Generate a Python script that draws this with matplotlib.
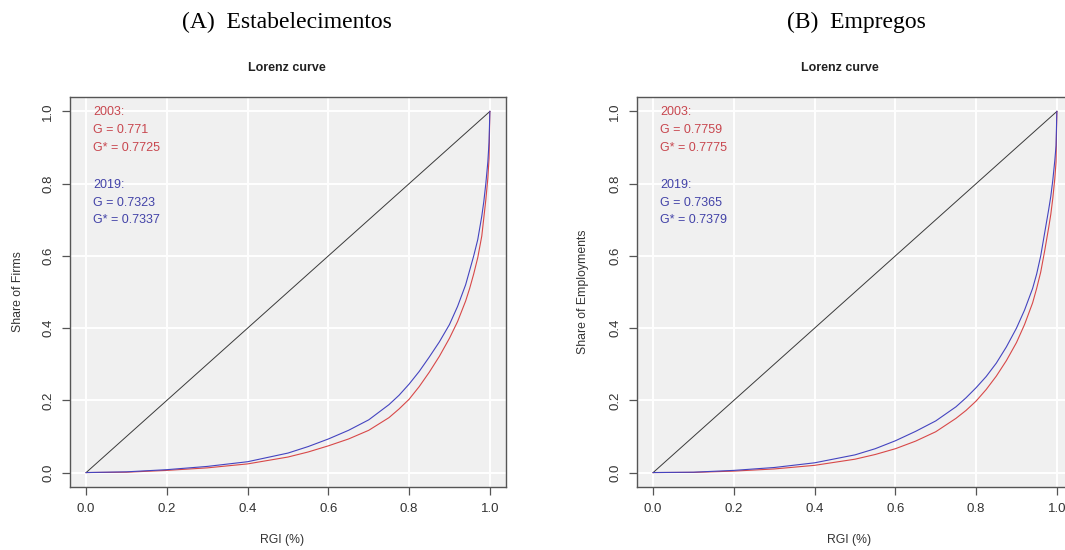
import matplotlib
matplotlib.use("Agg")
import matplotlib.pyplot as plt

# ---- data ------------------------------------------------------------------
share_x = [0, 0.1, 0.2, 0.3, 0.4, 0.5, 0.55, 0.6, 0.65, 0.7, 0.75, 0.775,
           0.8, 0.825, 0.85, 0.875, 0.9, 0.92, 0.94, 0.95, 0.96, 0.97, 0.98,
           0.985, 0.99, 0.995, 0.998, 1.0]

firms_2003 = [0, .001, .006, .013, .024, .043, .057, .074, .093, .117, .152,
              .176, .203, .238, .278, .322, .372, .418, .475, .51, .55, .595,
              .655, .705, .755, .815, .87, 1.0]
firms_2019 = [0, .002, .008, .017, .030, .054, .072, .093, .117, .146, .188,
              .214, .245, .28, .32, .362, .41, .46, .52, .56, .60, .645, .71,
              .75, .80, .86, .915, 1.0]

emp_2003 = [0, .0005, .004, .010, .020, .037, .050, .066, .087, .113, .150,
            .172, .198, .23, .267, .31, .36, .41, .47, .51, .555, .615, .68,
            .715, .76, .815, .86, 1.0]
emp_2019 = [0, .001, .006, .014, .027, .049, .066, .088, .114, .143, .182,
            .207, .235, .266, .303, .348, .40, .45, .51, .55, .60, .665, .73,
            .765, .81, .865, .905, 1.0]

gini_firms = {"2003": ("0.771", "0.7725"), "2019": ("0.7323", "0.7337")}
gini_emp = {"2003": ("0.7759", "0.7775"), "2019": ("0.7365", "0.7379")}

ticks = [0.0, 0.2, 0.4, 0.6, 0.8, 1.0]
tick_labels = ["0.0", "0.2", "0.4", "0.6", "0.8", "1.0"]

RED = "#d84848"
BLUE = "#4444c0"
RED_TXT = "#c8474f"
BLUE_TXT = "#4343a8"

plt.rcParams["font.family"] = ["Liberation Sans", "DejaVu Sans"]

W, H = 1065, 550
fig = plt.figure(figsize=(W / 100, H / 100), dpi=100)


def fx(px):
    return px / W


def fy(py):
    return 1 - py / H


def panel(left_px, y_2003, y_2019, gini, ylabel, ylabel_px, title_px,
          header, header_px):
    ax = fig.add_axes([fx(left_px), fy(487), 436 / W, 390 / H])
    ax.set_facecolor("#f0f0f0")
    ax.set_xlim(-0.04, 1.04)
    ax.set_ylim(-0.04, 1.04)
    ax.grid(True, color="white", linewidth=1.4)
    ax.set_axisbelow(True)

    ax.plot([0, 1], [0, 1], color="#3a3a3a", linewidth=0.7)
    ax.plot(share_x, y_2003, color=RED, linewidth=0.8)
    ax.plot(share_x, y_2019, color=BLUE, linewidth=0.8)

    ax.set_xticks(ticks)
    ax.set_xticklabels(tick_labels)
    ax.set_yticks(ticks)
    ax.set_yticklabels(tick_labels, rotation=90, va="center")
    ax.tick_params(direction="out", length=5.5, width=0.9, color="#555555",
                   labelcolor="#333333", labelsize=9.5, pad=6)
    for s in ax.spines.values():
        s.set_color("#555555")
        s.set_linewidth(1.0)

    tx = fx(left_px + 23)
    lines = [("2003:", RED_TXT, 112), ("G = " + gini["2003"][0], RED_TXT, 130),
             ("G* = " + gini["2003"][1], RED_TXT, 148),
             ("2019:", BLUE_TXT, 185), ("G = " + gini["2019"][0], BLUE_TXT, 203),
             ("G* = " + gini["2019"][1], BLUE_TXT, 220)]
    for txt, col, py in lines:
        fig.text(tx, fy(py), txt, color=col, fontsize=9, ha="left", va="center")

    fig.text(fx(ylabel_px), fy(292), ylabel, rotation=90, fontsize=8.8,
             color="#333333", ha="center", va="center")
    fig.text(fx(left_px + 212), fy(540), "RGI (%)", fontsize=8.8,
             color="#333333", ha="center", va="center")
    fig.text(fx(title_px), fy(68), "Lorenz curve", fontsize=9,
             fontweight="bold", color="#222222", ha="center", va="center")
    fig.text(fx(header_px), fy(22), header, fontsize=17, color="black",
             family=["Liberation Serif", "DejaVu Serif"],
             ha="center", va="center")
    return ax


panel(70, firms_2003, firms_2019, gini_firms, "Share of Firms", 18, 287,
      "(A)  Estabelecimentos", 287)
panel(637, emp_2003, emp_2019, gini_emp, "Share of Employments", 583, 840,
      "(B)  Empregos", 856)

fig.savefig("out.png", dpi=100)
